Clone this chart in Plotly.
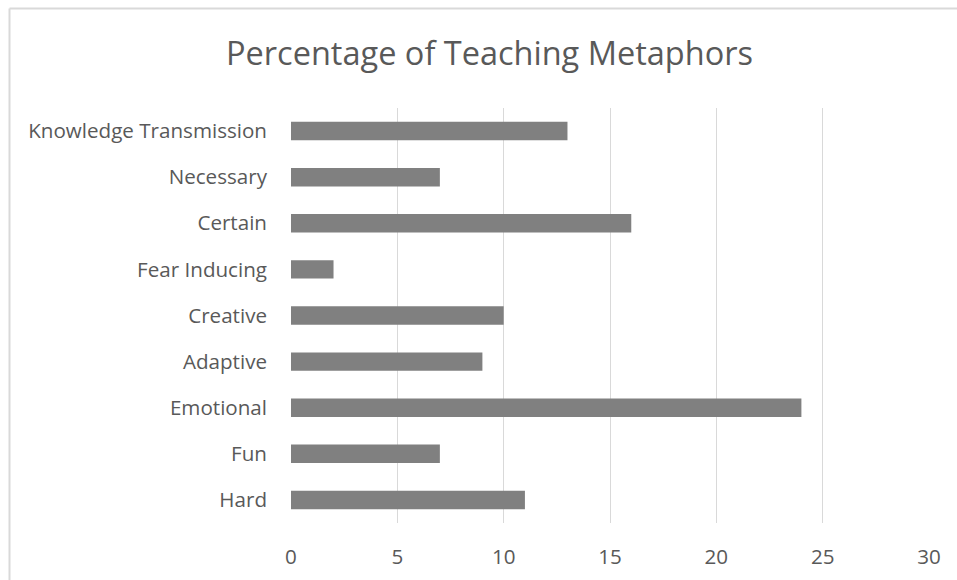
import plotly.graph_objects as go

categories = ["Knowledge Transmission", "Necessary", "Certain", "Fear Inducing",
              "Creative", "Adaptive", "Emotional", "Fun", "Hard"]
values = [13, 7, 16, 2, 10, 9, 24, 7, 11]
x_ticks = [0, 5, 10, 15, 20, 25, 30]

W, H = 957, 580
L = 291
R = W - 929
T = 108
B = H - 523
pw, ph = W - L - R, H - T - B

fig = go.Figure(go.Bar(
    x=values, y=categories, orientation="h",
    marker=dict(color="#808080", line=dict(width=0)),
))

bx = (9.5 - L) / pw
by = 1 + (T - 8.5) / ph
fig.update_layout(
    width=W, height=H,
    margin=dict(l=L, r=R, t=T, b=B, autoexpand=False),
    paper_bgcolor="white", plot_bgcolor="white",
    bargap=0.6,
    showlegend=False,
    font=dict(family="Open Sans", color="#595959", size=20.6),
    title=dict(text="Percentage of Teaching Metaphors", x=489.5 / W, xanchor="center",
               y=1 - 54 / H, yanchor="middle",
               font=dict(size=32.5, color="#595959", family="Open Sans")),
    xaxis=dict(range=[0, 30], tickvals=x_ticks, showgrid=True, gridcolor="#d9d9d9",
               gridwidth=1, zeroline=False, showline=False, ticks="", automargin=False,
               ticklabelstandoff=19, tickfont=dict(size=20.6, color="#595959")),
    yaxis=dict(autorange="reversed", showgrid=False, zeroline=False, showline=False,
               ticks="", automargin=False, ticklabelstandoff=23,
               tickfont=dict(size=20.6, color="#595959")),
    shapes=[
        dict(type="line", xref="paper", yref="paper",
             x0=bx, x1=bx, y0=-(B + 5) / ph, y1=by,
             line=dict(color="#d9d9d9", width=2), layer="below"),
        dict(type="line", xref="paper", yref="paper",
             x0=bx, x1=(W + 5 - L) / pw, y0=by, y1=by,
             line=dict(color="#d9d9d9", width=2), layer="below"),
    ],
)

fig.write_html(
    "out.html",
    config={"displayModeBar": False},
    post_script="document.body.style.margin='0';document.body.style.overflow='hidden';"
                "document.documentElement.style.overflow='hidden';",
)
